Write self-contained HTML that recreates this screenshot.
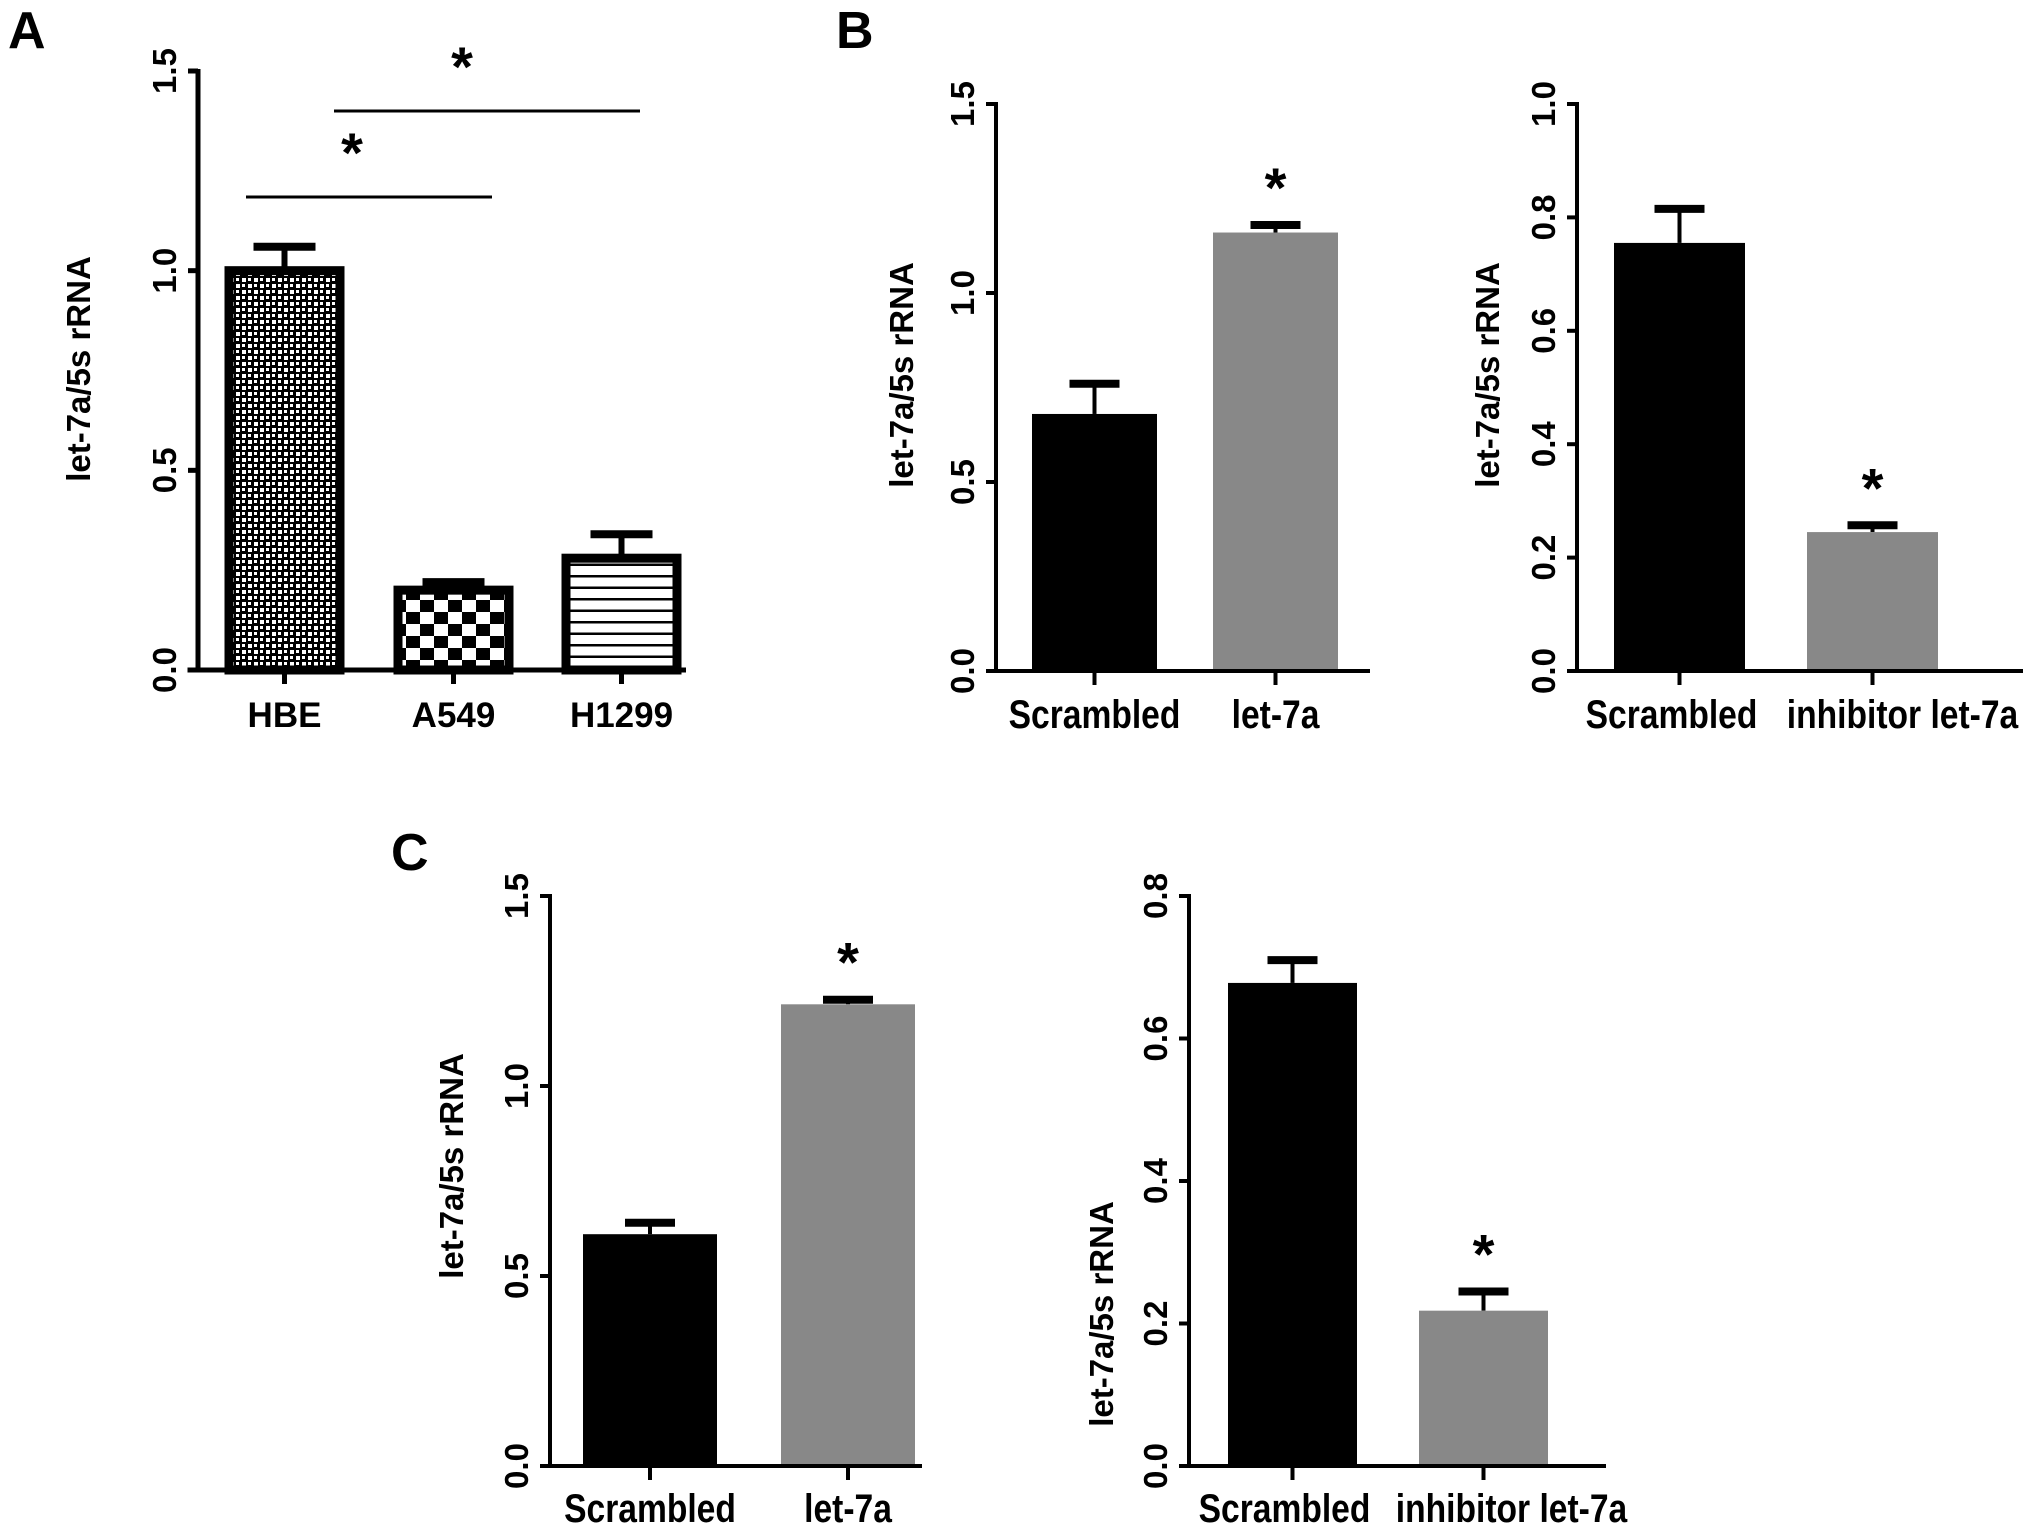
<!DOCTYPE html>
<html><head><meta charset="utf-8">
<style>
html,body{margin:0;padding:0;background:#fff;}
svg{display:block;font-family:"Liberation Sans",Arial,sans-serif;}
</style></head>
<body>
<svg id="fig" width="2031" height="1535" viewBox="0 0 2031 1535" xmlns="http://www.w3.org/2000/svg">
<defs>
<pattern id="fineCheck" width="12" height="12" patternUnits="userSpaceOnUse">
<rect width="12" height="12" fill="#000"/>
<rect x="2" y="2" width="4" height="4" fill="#fff"/><rect x="8" y="8" width="4" height="4" fill="#fff"/>
<rect x="8" y="2" width="3" height="3" fill="#fff"/><rect x="2" y="8" width="3" height="3" fill="#fff"/>
</pattern>
<pattern id="bigCheck" width="28" height="24" patternUnits="userSpaceOnUse">
<rect width="28" height="24" fill="#fff"/>
<rect x="0" y="0" width="14" height="12" fill="#000"/><rect x="14" y="12" width="14" height="12" fill="#000"/>
</pattern>
<pattern id="hLines" width="20" height="11.5" patternUnits="userSpaceOnUse">
<rect width="20" height="11.5" fill="#fff"/><rect y="0" width="20" height="2.5" fill="#000"/>
</pattern>
</defs>
<text x="8" y="48" font-size="52" font-weight="bold">A</text>
<text x="836" y="48" font-size="52" font-weight="bold">B</text>
<text x="391" y="870" font-size="52" font-weight="bold">C</text>
<g id="charts"></g>
</svg>
<script>
// Panel A
const aCats = ["HBE", "A549", "H1299"];
const aVals = [1.01, 0.21, 0.29];
const aErrs = [0.05, 0.01, 0.05];
const aTicks = ["0.0", "0.5", "1.0", "1.5"];
// Panel B left
const bLCats = ["Scrambled", "let-7a"];
const bLVals = [0.68, 1.16];
const bLErrs = [0.08, 0.02];
const bLTicks = ["0.0", "0.5", "1.0", "1.5"];
// Panel B right
const bRCats = ["Scrambled", "inhibitor let-7a"];
const bRVals = [0.755, 0.245];
const bRErrs = [0.06, 0.012];
const bRTicks = ["0.0", "0.2", "0.4", "0.6", "0.8", "1.0"];
// Panel C left
const cLCats = ["Scrambled", "let-7a"];
const cLVals = [0.61, 1.215];
const cLErrs = [0.03, 0.012];
const cLTicks = ["0.0", "0.5", "1.0", "1.5"];
// Panel C right
const cRCats = ["Scrambled", "inhibitor let-7a"];
const cRVals = [0.678, 0.218];
const cRErrs = [0.032, 0.027];
const cRTicks = ["0.0", "0.2", "0.4", "0.6", "0.8"];

const NS = "http://www.w3.org/2000/svg";
const root = document.getElementById("charts");
function mk(tag, attrs, parent) {
  const e = document.createElementNS(NS, tag);
  for (const k in attrs) e.setAttribute(k, attrs[k]);
  (parent || root).appendChild(e);
  return e;
}

function panel(cfg, cats, vals, errs, ticks) {
  const g = mk("g", {});
  
  
  const tmax = parseFloat(ticks[ticks.length - 1]);
  const y = v => cfg.y0 - (v / tmax) * (cfg.y0 - cfg.yTop);
  const sw = cfg.axisW;
  const ya = mk("line", {x1: cfg.ax, y1: cfg.yTop - 2, x2: cfg.ax, y2: cfg.y0 + sw/2, stroke: "#000", "stroke-width": sw}, g);
  
  
  ticks.forEach(t => {
    const ty = y(parseFloat(t));
    const tl = mk("line", {x1: cfg.ax - 10, y1: ty, x2: cfg.ax, y2: ty, stroke: "#000", "stroke-width": sw}, g);
    
    
    const tx = mk("text", {x: 0, y: 0, "font-size": 33, "font-weight": "bold", "text-anchor": "middle",
      transform: `translate(${cfg.ax - 22},${ty}) rotate(-90)`}, g);
    tx.textContent = t;
    
    
  });
  const yt = mk("text", {x: 0, y: 0, "font-size": 33, "font-weight": "bold", "text-anchor": "middle",
    transform: `translate(${cfg.ytx},${cfg.yty}) rotate(-90)`}, g);
  yt.textContent = "let-7a/5s rRNA";
  
  
  cats.forEach((c, i) => {
    const x0 = cfg.barX[i], bw = cfg.barW;
    const top = y(vals[i]);
    const cx = x0 + bw / 2;
    const eTop = y(vals[i] + errs[i]);
    const el = mk("line", {x1: cx, y1: eTop, x2: cx, y2: top, stroke: "#000", "stroke-width": cfg.errW}, g);
    
    
    const ec = mk("line", {x1: cx - cfg.capW/2, y1: eTop, x2: cx + cfg.capW/2, y2: eTop, stroke: "#000", "stroke-width": 8}, g);
    
    
    let r;
    if (cfg.fills[i].startsWith("url")) {
      r = mk("rect", {x: x0 + 4, y: top + 4, width: bw - 8, height: cfg.y0 - top - 4, fill: cfg.fills[i], stroke: "#000", "stroke-width": 9}, g);
    } else {
      r = mk("rect", {x: x0, y: top, width: bw, height: cfg.y0 - top, fill: cfg.fills[i]}, g);
    }
    
    
    const xt = mk("line", {x1: cx, y1: cfg.y0, x2: cx, y2: cfg.y0 + 14, stroke: "#000", "stroke-width": sw}, g);
    
    
    const dx = cfg.labDx ? cfg.labDx[i] : 0;
    const lab = mk("text", {x: 0, y: 0, "font-size": cfg.catFs, "font-weight": "bold", "text-anchor": "middle",
      transform: `translate(${cx + dx},${cfg.labY}) scale(${cfg.catSx},1)`}, g);
    lab.textContent = c;
    
    
  });
  const xa = mk("line", {x1: cfg.ax - sw/2 - 8, y1: cfg.y0, x2: cfg.axEnd, y2: cfg.y0, stroke: "#000", "stroke-width": sw}, g);
  
  
  (cfg.stars || []).forEach(s => {
    const cx = cfg.barX[s] + cfg.barW / 2;
    const st = mk("text", {x: cx, y: y(vals[s] + errs[s]) - 18, "font-size": 56, "font-weight": "bold", "text-anchor": "middle"}, g);
    st.textContent = "*";
    
    
  });
  return g;
}

const gA = panel({name: "panel-a-chart", ax: 198, yTop: 71, y0: 670, axisW: 5, axEnd: 686, ytx: 90, yty: 369,
  barX: [225, 394, 562], barW: 119, errW: 6, capW: 62, fills: ["url(#fineCheck)", "url(#bigCheck)", "url(#hLines)"],
  labY: 727, catFs: 35, catSx: 1}, aCats, aVals, aErrs, aTicks);
[[246, 492, 197, 352, 172], [334, 640, 111, 462, 86]].forEach(b => {
  const l = mk("line", {x1: b[0], y1: b[2], x2: b[1], y2: b[2], stroke: "#000", "stroke-width": 3}, gA);
  
  
  const s = mk("text", {x: b[3], y: b[4], "font-size": 56, "font-weight": "bold", "text-anchor": "middle"}, gA);
  s.textContent = "*";
  
  
});

panel({name: "panel-b-left-chart", ax: 996, yTop: 104, y0: 671, axisW: 4, axEnd: 1370, ytx: 913, yty: 375,
  barX: [1032, 1213], barW: 125, errW: 4, capW: 50, fills: ["#000", "#888"], stars: [1],
  labY: 728, catFs: 40, catSx: 0.84}, bLCats, bLVals, bLErrs, bLTicks);
panel({name: "panel-b-right-chart", ax: 1577, yTop: 104, y0: 671, axisW: 4, axEnd: 2023, ytx: 1499, yty: 375,
  barX: [1614, 1807], barW: 131, errW: 4, capW: 50, fills: ["#000", "#888"], stars: [1],
  labY: 728, catFs: 40, catSx: 0.84, labDx: [-8, 30]}, bRCats, bRVals, bRErrs, bRTicks);
panel({name: "panel-c-left-chart", ax: 550, yTop: 896, y0: 1466, axisW: 4, axEnd: 922, ytx: 463, yty: 1166,
  barX: [583, 781], barW: 134, errW: 4, capW: 50, fills: ["#000", "#888"], stars: [1],
  labY: 1522, catFs: 40, catSx: 0.84}, cLCats, cLVals, cLErrs, cLTicks);
panel({name: "panel-c-right-chart", ax: 1189, yTop: 896, y0: 1466, axisW: 4, axEnd: 1606, ytx: 1113, yty: 1314,
  barX: [1228, 1419], barW: 129, errW: 4, capW: 50, fills: ["#000", "#888"], stars: [1],
  labY: 1522, catFs: 40, catSx: 0.84, labDx: [-8, 28]}, cRCats, cRVals, cRErrs, cRTicks);
</script>
</body></html>
